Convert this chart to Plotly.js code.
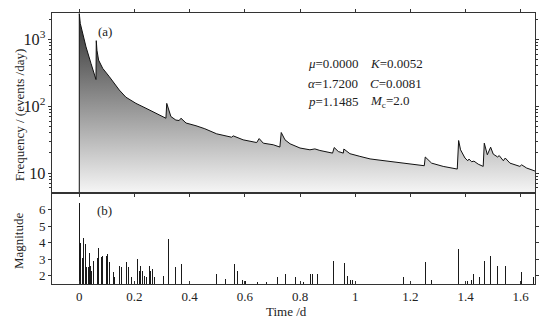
<!DOCTYPE html>
<html>
<head>
<meta charset="utf-8">
<script src="https://cdn.plot.ly/plotly-3.0.1.min.js"></script>
<style>html,body{margin:0;padding:0;background:#fff;}#chart{width:555px;height:320px;}</style>
</head>
<body>
<div id="chart"></div>
<script>
// Conditional intensity curve (panel a)
const freqTime = [0, 0, 0.0036, 0.0123, 0.0243, 0.0424, 0.058, 0.0605, 0.0616, 0.064, 0.070, 0.085, 0.109, 0.145, 0.169, 0.2055, 0.2417, 0.278, 0.314, 0.317, 0.332, 0.35, 0.362, 0.3686, 0.387, 0.423, 0.455, 0.498, 0.552, 0.558, 0.594, 0.643, 0.652, 0.667, 0.703, 0.727, 0.732, 0.7456, 0.764, 0.8, 0.836, 0.854, 0.872, 0.918, 0.924, 0.939, 0.957, 0.959, 0.981, 1.017, 1.054, 1.09, 1.150, 1.2505, 1.254, 1.277, 1.319, 1.370, 1.375, 1.382, 1.398, 1.408, 1.4125, 1.422, 1.4305, 1.446, 1.464, 1.468, 1.479, 1.491, 1.5005, 1.5165, 1.522, 1.537, 1.544, 1.561, 1.597, 1.6035, 1.6216, 1.653];
const freqValue = [1, 2410, 1720, 1215, 768, 435, 275, 250, 950, 685, 487, 366, 275, 174, 136, 110, 93, 78, 66, 110, 70, 62, 61, 66, 56, 51, 46, 38.6, 34.4, 36, 31.4, 28.6, 32.8, 28, 26.5, 24.5, 40.4, 31.4, 27.4, 23.7, 22.3, 23, 21.8, 19.9, 24.1, 21, 19.9, 22.9, 19.5, 17.8, 16.3, 15.6, 14.4, 12.9, 17.4, 14.1, 12.6, 11.5, 30.7, 22.3, 16.8, 15.3, 16.2, 14.8, 15.1, 13.6, 12.6, 28, 18.8, 24.4, 19.2, 17.4, 18.3, 15.3, 16.8, 14.1, 12.6, 13.3, 11.9, 10.7];

// Earthquake events (panel b)
const eventTime = [0.000, 0.001, 0.006, 0.010, 0.016, 0.021, 0.026, 0.033, 0.036, 0.039, 0.045, 0.052, 0.0605, 0.067, 0.070, 0.075, 0.079, 0.085, 0.097, 0.103, 0.108, 0.123, 0.129, 0.145, 0.154, 0.162, 0.170, 0.178, 0.190, 0.210, 0.2175, 0.2225, 0.230, 0.238, 0.244, 0.254, 0.259, 0.266, 0.272, 0.3045, 0.3226, 0.349, 0.365, 0.371, 0.376, 0.399, 0.452, 0.4965, 0.5136, 0.529, 0.562, 0.574, 0.592, 0.597, 0.603, 0.645, 0.655, 0.677, 0.7057, 0.719, 0.7347, 0.748, 0.785, 0.812, 0.837, 0.8445, 0.864, 0.923, 0.9605, 0.973, 0.984, 0.991, 1.174, 1.2555, 1.277, 1.376, 1.408, 1.4125, 1.423, 1.4305, 1.452, 1.468, 1.492, 1.5165, 1.544, 1.6035, 1.647];
const eventMag = [6.4, 3.1, 4.0, 3.1, 4.3, 3.9, 2.5, 2.55, 3.4, 2.6, 2.3, 2.9, 5.7, 3.1, 3.7, 3.35, 3.15, 3.2, 3.2, 3.3, 2.85, 2.2, 1.95, 2.6, 2.5, 2.75, 2.85, 2.5, 1.9, 3.0, 2.3, 2.6, 2.3, 2.0, 1.95, 2.6, 2.3, 2.4, 1.95, 2.0, 4.2, 2.5, 3.0, 2.7, 2.7, 1.7, 1.7, 2.1, 1.9, 1.8, 2.7, 2.3, 1.75, 2.0, 1.7, 1.63, 2.87, 1.6, 2.0, 1.9, 3.5, 2.1, 1.9, 1.63, 2.1, 2.1, 2.1, 2.9, 2.75, 2.0, 1.75, 1.75, 1.95, 2.85, 1.72, 3.6, 1.7, 2.3, 1.77, 2.1, 1.9, 2.9, 3.2, 2.6, 2.6, 2.2, 1.9];

const xTickVals = [0, 0.2, 0.4, 0.6, 0.8, 1, 1.2, 1.4, 1.6];
const xTickText = ['0', '0.2', '0.4', '0.6', '0.8', '1', '1.2', '1.4', '1.6'];
const magTicks = [2, 3, 4, 5, 6];

const FONT = 'Liberation Serif, Times New Roman, serif';
const INK = '#222';

const traces = [
  {
    type: 'scatter', mode: 'lines', x: freqTime, y: freqValue,
    xaxis: 'x', yaxis: 'y',
    line: {color: '#111', width: 1},
    fill: 'tozeroy',
    fillgradient: {type: 'vertical', start: 5, stop: 2450, colorscale: [[0, '#f6f6f6'], [1, '#2c2c2c']]},
    hoverinfo: 'skip'
  },
  {
    type: 'bar', x: eventTime, y: eventMag,
    xaxis: 'x2', yaxis: 'y2',
    width: 0.0034,
    marker: {color: '#1a1a1a', line: {width: 0}},
    hoverinfo: 'skip'
  }
];

const axBase = {
  showline: true, linecolor: '#333', linewidth: 1, mirror: 'ticks',
  ticks: 'outside', ticklen: 3, tickcolor: '#333', tickwidth: 1,
  showgrid: false, zeroline: false,
  tickfont: {family: FONT, size: 13, color: INK}
};

function ann(x, y, text, extra) {
  return Object.assign({xref: 'paper', yref: 'paper', x: x, y: y, text: text, showarrow: false,
    xanchor: 'center', yanchor: 'middle', font: {family: FONT, size: 13, color: INK}}, extra || {});
}

const layout = {
  width: 555, height: 320,
  margin: {l: 52, r: 20, t: 13, b: 36},
  paper_bgcolor: '#fff', plot_bgcolor: '#fff',
  showlegend: false,
  bargap: 0,
  xaxis: Object.assign({}, axBase, {
    anchor: 'y', range: [-0.0989, 1.6518], tickvals: xTickVals, showticklabels: false
  }),
  yaxis: Object.assign({}, axBase, {
    domain: [0.336, 1], anchor: 'x', type: 'log', range: [0.704, 3.391],
    dtick: 1, exponentformat: 'power',
    minor: {ticks: 'outside', ticklen: 2, tickcolor: '#333', dtick: 'D1'}
  }),
  xaxis2: Object.assign({}, axBase, {
    anchor: 'y2', range: [-0.0989, 1.6518], tickvals: xTickVals, ticktext: xTickText,
    ticks: 'inside'
  }),
  yaxis2: Object.assign({}, axBase, {
    domain: [0, 0.336], anchor: 'x2', range: [1.5, 7.01], tickvals: magTicks
  }),
  annotations: [
    ann(-0.068, 0.6236, 'Frequency / (events /day)', {textangle: -90}),
    ann(-0.068, 0.159, 'Magnitude', {textangle: -90}),
    ann(0.4845, -0.1, 'Time /d'),
    ann(0.1097, 0.931, '(a)'),
    ann(0.1097, 0.273, '(b)'),
    ann(0.526, 0.812, '<i>μ</i>=0.0000', {xanchor: 'left'}),
    ann(0.526, 0.741, '<i>α</i>=1.7200', {xanchor: 'left'}),
    ann(0.526, 0.673, '<i>p</i>=1.1485', {xanchor: 'left'}),
    ann(0.654, 0.812, '<i>K</i>=0.0052', {xanchor: 'left'}),
    ann(0.654, 0.741, '<i>C</i>=0.0081', {xanchor: 'left'}),
    ann(0.654, 0.673, '<i>M</i><sub>c</sub>=2.0', {xanchor: 'left'})
  ]
};

Plotly.newPlot('chart', traces, layout, {staticPlot: true, displayModeBar: false});
</script>
</body>
</html>
